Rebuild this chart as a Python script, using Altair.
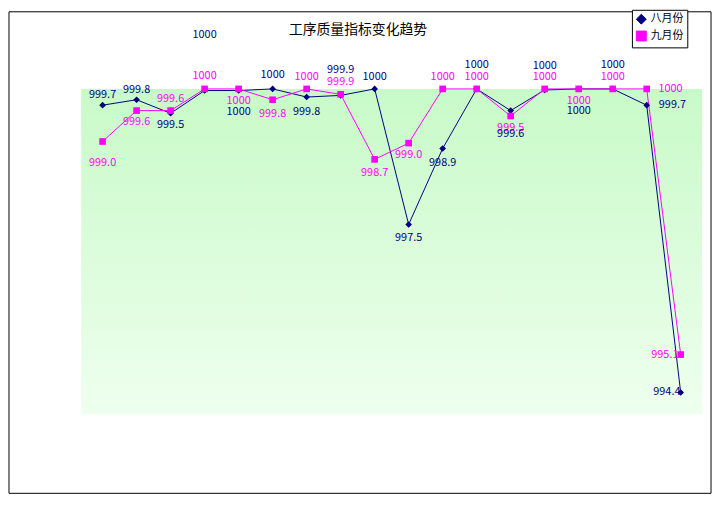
import pandas as pd
import altair as alt

cats = ["数控车", "钻销孔", "车R", "钻工艺孔", "车孔", "插齿", "车大外圆", "滚螺纹", "数控磨",
        "镗孔", "精磨", "磨R", "铣键槽", "磨锥", "压合", "校正", "其它", "综合"]
aug = [999.7, 999.8, 999.55, 999.97, 999.97, 1000, 999.85, 999.88, 1000, 997.5, 998.9, 1000,
       999.6, 999.98, 1000, 1000, 999.7, 994.4]
sep = [999.03, 999.6, 999.6, 1000, 1000, 999.8, 1000, 999.9, 998.7, 999.0, 1000, 1000,
       999.5, 1000, 1000, 1000, 1000, 995.1]
aug_lbl = ["999.7", "999.8", "999.5", "1000", "1000", "1000", "999.8", "999.9", "1000", "997.5",
           "998.9", "1000", "999.6", "1000", "1000", "1000", "999.7", "994.4"]
sep_lbl = ["999.0", "999.6", "999.6", "1000", "1000", "999.8", "1000", "999.9", "998.7", "999.0",
           "1000", "1000", "999.5", "1000", "1000", "1000", "1000", "995.1"]
# label offsets (px) relative to the point
aug_dy = [-10, -10, 12, -56, 22, -14, 15, -26, -12, 14, 15, -24, 24, -24, 22, -24, 0, 0]
aug_dx = [0, 0, 0, 0, 0, 0, 0, 0, 0, 0, 0, 0, 0, 0, 0, 0, 26, -14]
sep_dy = [22, 12, -12, -13, 12, 14, -12, -12, 14, 12, -12, -12, 12, -12, 12, -12, 0, 0]
sep_dx = [0, 0, 0, 0, 0, 0, 0, 0, 0, 0, 0, 0, 0, 0, 0, 0, 24, -16]

rows = []
for i, c in enumerate(cats):
    rows.append({"cat": c, "v": aug[i], "s": "八月份", "lbl": aug_lbl[i], "dy": aug_dy[i], "dx": aug_dx[i]})
    rows.append({"cat": c, "v": sep[i], "s": "九月份", "lbl": sep_lbl[i], "dy": sep_dy[i], "dx": sep_dx[i]})
df = pd.DataFrame(rows)

font = "Noto Sans CJK SC"
series = ["八月份", "九月份"]
colors = alt.Scale(domain=series, range=["#000080", "#ff00ff"])
shapes = alt.Scale(domain=series, range=["diamond", "square"])

x = alt.X("cat:N", sort=cats, title=None,
          scale=alt.Scale(type="point", padding=0.63),
          axis=alt.Axis(labelExpr="split(datum.label, '')", labelAngle=0, labelFont=font,
                        labelFontSize=12, labelColor="black", labelLineHeight=19,
                        domainColor="black", tickColor="black", grid=False, labelPadding=6,
                        labelBaseline="top"))
y = alt.Y("v:Q", title=None, scale=alt.Scale(domain=[994, 1000], nice=False, zero=False),
          axis=alt.Axis(values=[994, 997, 1000], format="d", labelFont=font, labelFontSize=11,
                        labelColor="black", domainColor="black", tickColor="black", grid=False))

one = pd.DataFrame({"a": [0]})
frame = alt.Chart(one).mark_rect(fill="white", stroke="black", strokeWidth=1, clip=False).encode(
    x=alt.value(-73), x2=alt.value(637), y=alt.value(-78), y2=alt.value(409))
bg = alt.Chart(one).mark_rect(
    color=alt.Gradient(gradient="linear", x1=0, y1=0, x2=0, y2=1,
                       stops=[alt.GradientStop(color="#c8fac8", offset=0),
                              alt.GradientStop(color="#eeffee", offset=1)])
).encode(x=alt.value(0), x2=alt.value(628), y=alt.value(0), y2=alt.value(329))
title = alt.Chart(one).mark_text(text="工序质量指标变化趋势", font=font, fontSize=14, clip=False).encode(
    x=alt.value(280), y=alt.value(-60))

base = alt.Chart(df)
lines = base.mark_line(strokeWidth=1).encode(
    x=x, y=y, color=alt.Color("s:N", scale=colors, sort=series, title=None,
                              legend=alt.Legend(orient="none", legendX=557, legendY=-80,
                                                labelFont=font, labelFontSize=11, strokeColor="black",
                                                fillColor="white", padding=4, symbolStrokeWidth=1)),
    shape=alt.Shape("s:N", scale=shapes, sort=series, legend=None),
)
pts = base.mark_point(filled=True, size=45, opacity=1).encode(
    x=x, y=y, color=alt.Color("s:N", scale=colors, legend=None),
    shape=alt.Shape("s:N", scale=shapes, legend=None),
)

label_layers = []
for (ddx, ddy), _ in df.groupby(["dx", "dy"]):
    label_layers.append(
        base.transform_filter(f"datum.dx == {ddx} && datum.dy == {ddy}")
        .mark_text(font=font, fontSize=11, dx=int(ddx), dy=int(ddy))
        .encode(x=x, y=y, text="lbl:N",
                color=alt.Color("s:N", scale=alt.Scale(domain=series, range=["black", "#ff00ff"]),
                                legend=None))
    )

chart = alt.layer(frame, bg, lines, pts, *label_layers, title).properties(
    width=628, height=329,
    autosize=alt.AutoSizeParams(type="none"),
    padding={"left": 74, "top": 79, "right": 11, "bottom": 90},
).configure_view(stroke=None)

chart.save("out.html", embed_options={"renderer": "svg", "actions": False})
